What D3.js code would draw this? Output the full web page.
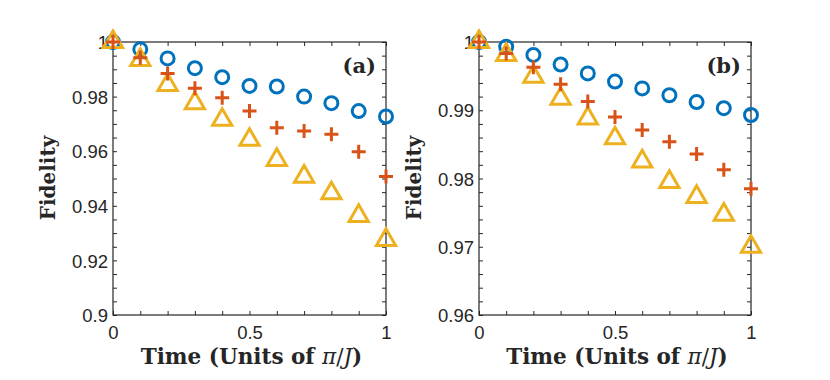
<!DOCTYPE html>
<html>
<head>
<meta charset="utf-8">
<script src="https://cdn.jsdelivr.net/npm/d3@7"></script>
<style>
  body { margin: 0; background: #fff; }
  svg { display: block; }
  .tick text { font-family: "Liberation Sans", Arial, sans-serif; font-size: 18.5px; fill: #262626; }
  .lab { font-family: "DejaVu Serif", serif; font-weight: bold; fill: #262626; }
</style>
</head>
<body>
<svg width="830" height="380"></svg>
<script>
var svg = d3.select("svg");

// time points (units of pi/J)
var times = [0, 0.1, 0.2, 0.3, 0.4, 0.5, 0.6, 0.7, 0.8, 0.9, 1];

// panel (a)
var circlesA = [1.0, 0.9973, 0.9940, 0.9904, 0.9871, 0.9839, 0.9837, 0.9800, 0.9776, 0.9747, 0.9727];
var plusesA = [1.0, 0.9942, 0.9885, 0.9831, 0.9796, 0.9747, 0.9686, 0.9674, 0.9662, 0.9598, 0.9507];
var trianglesA = [1.0, 0.9934, 0.9843, 0.9776, 0.9715, 0.9642, 0.9568, 0.9507, 0.9446, 0.9363, 0.9275];
var yTicksA = [0.9, 0.92, 0.94, 0.96, 0.98, 1];

// panel (b)
var circlesB = [1.0, 0.9993, 0.9981, 0.9967, 0.9954, 0.9942, 0.9932, 0.9922, 0.9912, 0.9903, 0.9893];
var plusesB = [1.0, 0.9983, 0.9963, 0.9938, 0.9913, 0.9890, 0.9871, 0.9854, 0.9836, 0.9813, 0.9785];
var trianglesB = [1.0, 0.9981, 0.9949, 0.9917, 0.9888, 0.9859, 0.9825, 0.9795, 0.9773, 0.9747, 0.9700];
var yTicksB = [0.96, 0.97, 0.98, 0.99, 1];

var xTicks = [0, 0.5, 1];

var blue = "#0072BD", red = "#D95319", yellow = "#EDB120", axisCol = "#262626";

function drawPanel(opt) {
  var x = d3.scaleLinear().domain([0, 1]).range([opt.left, opt.right]);
  var y = d3.scaleLinear().domain(opt.yDomain).range([315, 42]);
  var g = svg.append("g");

  // minor ticks, inward, on all four sides
  var minorX = d3.range(0, 1.0001, 0.1);
  var minorY = d3.range(opt.yDomain[0], opt.yDomain[1] + 1e-9, opt.minorStep);
  var mk = function(axis, tr) {
    g.append("g").attr("transform", tr)
    .call(axis.tickSize(-4).tickFormat(""))
    .call(function(s) { s.select(".domain").remove(); s.selectAll("line").attr("stroke", axisCol); });
  };
  mk(d3.axisBottom(x).tickValues(minorX), "translate(0,315)");
  mk(d3.axisTop(x).tickValues(minorX), "translate(0,42)");
  mk(d3.axisLeft(y).tickValues(minorY), "translate(" + opt.left + ",0)");
  mk(d3.axisRight(y).tickValues(minorY), "translate(" + opt.right + ",0)");

  // box
  g.append("rect")
  .attr("x", opt.left)
  .attr("y", 42)
  .attr("width", opt.right - opt.left)
  .attr("height", 315 - 42)
  .attr("fill", "none")
  .attr("stroke", axisCol)
  .attr("stroke-width", 1.2);

  // tick labels
  g.append("g").attr("transform", "translate(0,315)")
  .call(d3.axisBottom(x).tickValues(xTicks).tickSize(0).tickPadding(8).tickFormat(d3.format("")))
  .call(function(s) { s.select(".domain").remove(); s.selectAll("text").attr("dy", "0.85em"); });
  g.append("g").attr("transform", "translate(" + opt.left + ",0)")
  .call(d3.axisLeft(y).tickValues(opt.yTicks).tickSize(0).tickPadding(5).tickFormat(d3.format("")))
  .call(function(s) { s.select(".domain").remove(); s.selectAll("text").attr("dy", "0.36em"); });

  // axis titles
  g.append("text")
  .attr("class", "lab")
  .attr("transform", "translate(" + (opt.left - 58) + ",178) rotate(-90)")
  .attr("text-anchor", "middle")
  .attr("font-size", 20)
  .text("Fidelity");

  var xl = g.append("text")
  .attr("class", "lab")
  .attr("x", (opt.left + opt.right) / 2 + 2)
  .attr("y", 364)
  .attr("text-anchor", "middle")
  .attr("font-size", 21.5);
  xl.append("tspan").text("Time (Units of ");
  xl.append("tspan").attr("font-style", "italic").attr("font-weight", "normal").text("π");
  xl.append("tspan").attr("font-weight", "normal").text("/");
  xl.append("tspan").attr("font-style", "italic").attr("font-weight", "normal").text("J");
  xl.append("tspan").text(")");

  g.append("text")
  .attr("class", "lab")
  .attr("x", opt.right - 10)
  .attr("y", 73)
  .attr("text-anchor", "end")
  .attr("font-size", 21)
  .text(opt.tag);

  // markers
  var pts = function(vals) {
    return times.map(function(t, i) { return { x: x(t), y: y(vals[i]) }; });
  };

  g.append("g").selectAll("circle")
  .data(pts(opt.circles))
  .enter().append("circle")
  .attr("cx", function(d) { return d.x; })
  .attr("cy", function(d) { return d.y; })
  .attr("r", 6.5)
  .attr("fill", "none")
  .attr("stroke", blue)
  .attr("stroke-width", 3);

  var tri = d3.symbol().type(d3.symbolTriangle).size(160);
  g.append("g").selectAll("path")
  .data(pts(opt.triangles))
  .enter().append("path")
  .attr("d", tri)
  .attr("transform", function(d) { return "translate(" + d.x + "," + d.y + ")"; })
  .attr("fill", "none")
  .attr("stroke", yellow)
  .attr("stroke-width", 3)
  .attr("stroke-linejoin", "miter");

  var plus = "M-7,0H7M0,-7V7";
  g.append("g").selectAll("path")
  .data(pts(opt.pluses))
  .enter().append("path")
  .attr("d", plus)
  .attr("transform", function(d) { return "translate(" + d.x + "," + d.y + ")"; })
  .attr("fill", "none")
  .attr("stroke", red)
  .attr("stroke-width", 3);
}

drawPanel({
  left: 113, right: 386, yDomain: [0.9, 1], minorStep: 0.005, yTicks: yTicksA,
  circles: circlesA, pluses: plusesA, triangles: trianglesA, tag: "(a)"
});

drawPanel({
  left: 479, right: 751, yDomain: [0.96, 1], minorStep: 0.002, yTicks: yTicksB,
  circles: circlesB, pluses: plusesB, triangles: trianglesB, tag: "(b)"
});
</script>
</body>
</html>
